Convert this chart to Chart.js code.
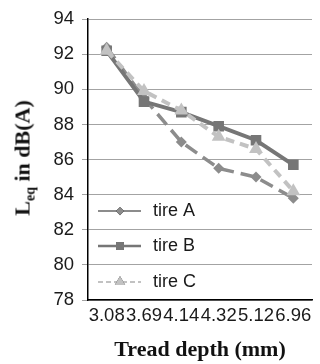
<!DOCTYPE html>
<html>
<head>
<meta charset="utf-8">
<script src="https://cdn.jsdelivr.net/npm/chart.js@4"></script>
<style>
  html, body { margin:0; padding:0; background:#fff; }
  #wrap { position:relative; width:320px; height:364px; }
  #ytitle { position:absolute; left:24px; top:158px; transform:translate(-50%,-50%) rotate(-90deg);
    font:bold 22px "Liberation Serif", serif; color:#111; white-space:nowrap; }
  #ytitle sub { font-size:14px; vertical-align:-5px; }
</style>
</head>
<body>
<div id="wrap">
  <canvas id="c" width="320" height="364"></canvas>
  <div id="ytitle">L<sub>eq</sub> in dB(A)</div>
</div>
<script>
// Lydnivå mot mønsterdybde, tre dekk
const depths = ["3.08", "3.69", "4.14", "4.32", "5.12", "6.96"];
const tireA = [92.4, 89.5, 87.0, 85.5, 85.0, 83.8];
const tireB = [92.2, 89.3, 88.7, 87.9, 87.1, 85.7];
const tireC = [92.2, 89.9, 88.8, 87.3, 86.6, 84.2];
const yTicks = [78, 80, 82, 84, 86, 88, 90, 92, 94];

const FONT = "'Liberation Sans', Arial, sans-serif";

const series = [
  { label:"tire A", data:tireA, color:"#8c8c8c", dash:[14,7], legDash:[], pt:"rectRot", r:5.5, w:3.5, lw:2, order:2 },
  { label:"tire B", data:tireB, color:"#767676", dash:[], legDash:[], pt:"rect", r:7.5, w:4, lw:2.5, order:1 },
  { label:"tire C", data:tireC, color:"#c2c2c2", dash:[9,6], legDash:[5,3], pt:"triangle", r:8, w:4, lw:2, order:0 },
];

// Forklaring inne i plottet, nede til venstre (linje + markør + tekst)
const insideLegend = {
  id:"insideLegend",
  afterDraw(c) {
    const { ctx, chartArea:a } = c;
    const rows = [a.bottom - 89, a.bottom - 54, a.bottom - 18];
    ctx.save();
    series.forEach((s, i) => {
      const y = rows[i], x0 = a.left + 10, x1 = a.left + 53, xm = a.left + 32;
      ctx.strokeStyle = s.color; ctx.lineWidth = s.lw; ctx.setLineDash(s.legDash);
      ctx.beginPath(); ctx.moveTo(x0, y); ctx.lineTo(x1, y); ctx.stroke();
      ctx.setLineDash([]);
      Chart.helpers.drawPoint(ctx, { pointStyle:s.pt, radius:s.r * 0.75, rotation:0, borderWidth:0 }, xm, y);
      ctx.fillStyle = s.color; ctx.fill();
      ctx.fillStyle = "#1a1a1a"; ctx.font = `18px ${FONT}`;
      ctx.textBaseline = "middle"; ctx.textAlign = "left";
      ctx.fillText(s.label, a.left + 65, y);
    });
    ctx.restore();
  },
};

new Chart(document.getElementById("c"), {
  type:"line",
  data:{
    labels:depths,
    datasets:series.map((s) => ({
      label:s.label, data:s.data, order:s.order,
      borderColor:s.color, backgroundColor:s.color, borderWidth:s.w, borderDash:s.dash,
      pointStyle:s.pt, pointRadius:s.r, pointBorderWidth:0, pointBackgroundColor:s.color,
      tension:0, fill:false,
    })),
  },
  options:{
    responsive:false, animation:false, devicePixelRatio:1,
    layout:{ padding:{ left:36, right:8, top:6, bottom:0 } },
    plugins:{ legend:{ display:false }, tooltip:{ enabled:false } },
    scales:{
      x:{
        offset:true,
        grid:{ drawOnChartArea:false, drawTicks:false },
        border:{ display:true, color:"#000", width:1.5 },
        ticks:{ color:"#1a1a1a", font:{ family:FONT, size:18.5 }, padding:5, maxRotation:0, autoSkip:false },
        title:{ display:true, text:"Tread depth (mm)", color:"#111",
          font:{ family:"'Liberation Serif', serif", size:22, weight:"bold" }, padding:{ top:10, bottom:0 } },
        afterFit:(s) => { s.height = 64; },
      },
      y:{
        min:78, max:94,
        afterBuildTicks:(s) => { s.ticks = yTicks.map((v) => ({ value:v })); },
        grid:{ color:"#a3a3a3", lineWidth:1, tickLength:6 },
        border:{ display:true, color:"#000", width:1.5 },
        ticks:{ color:"#1a1a1a", font:{ family:FONT, size:18.5 }, padding:8 },
        afterFit:(s) => { s.width = 52; },
      },
    },
  },
  plugins:[insideLegend],
});
</script>
</body>
</html>
